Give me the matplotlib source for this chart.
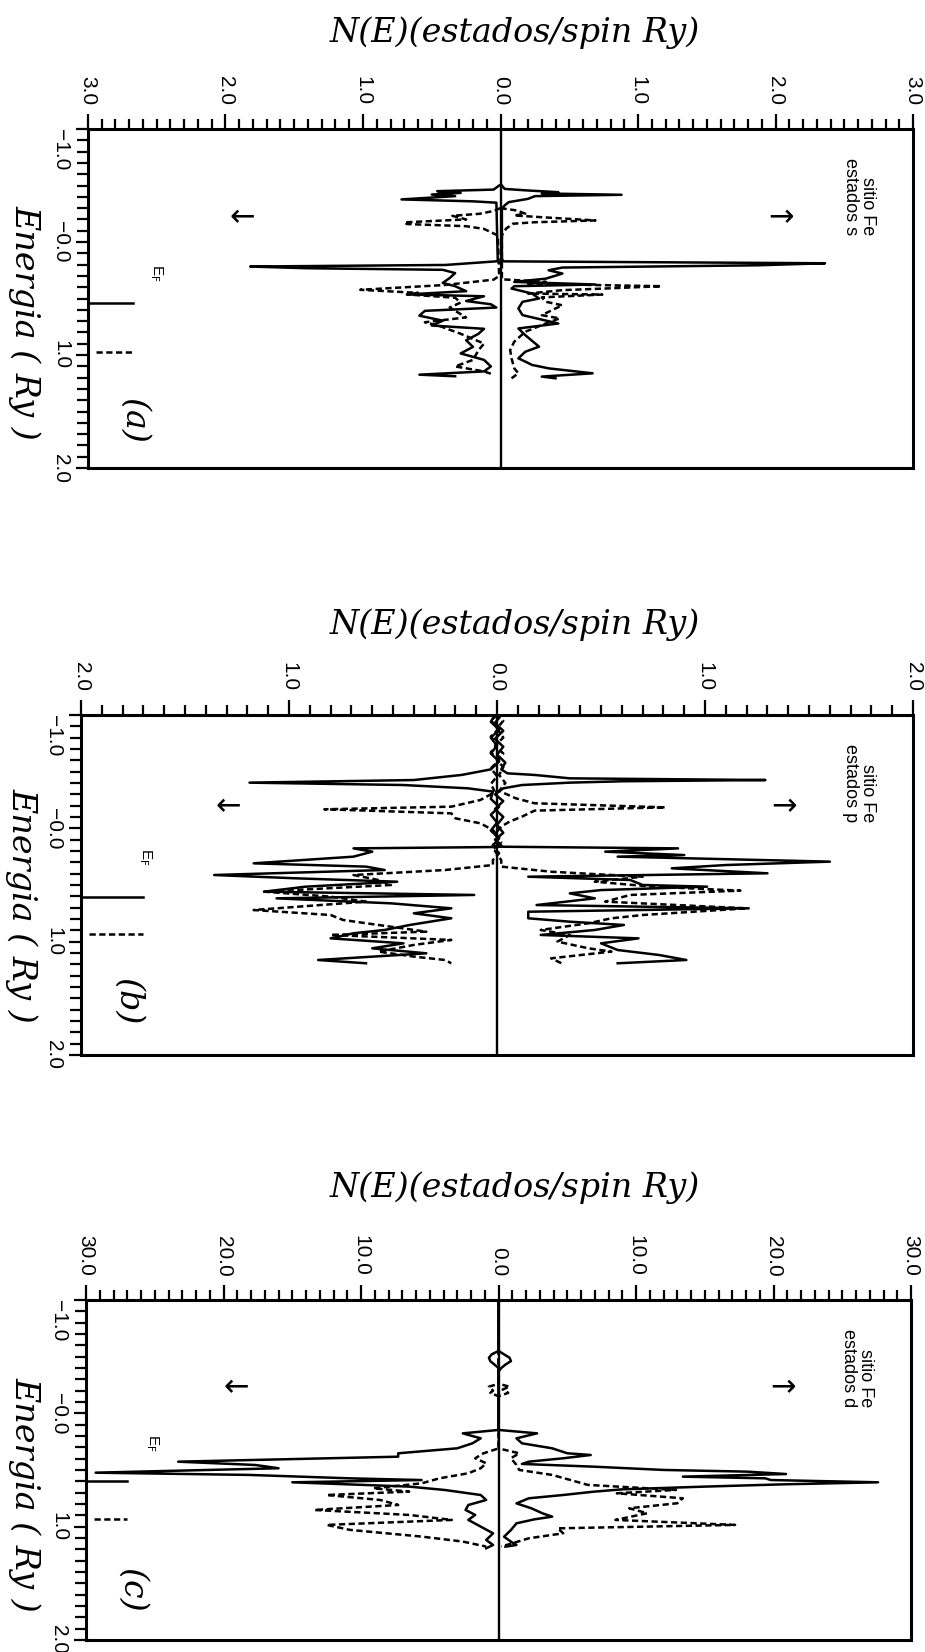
import matplotlib
matplotlib.use("Agg")
import matplotlib.pyplot as plt
from matplotlib.ticker import MultipleLocator, FixedLocator
from matplotlib.transforms import blended_transform_factory

plt.rcParams['font.family'] = ['Liberation Sans', 'DejaVu Sans']

# ---- datos: (E en Ry, N(E) en estados/spin Ry) ----
# panel (a): estados s
s_up_solid = [(-0.50, 0.01), (-0.47, 0.03), (-0.456, 0.20), (-0.441, 0.42), (-0.43, 0.30),
              (-0.418, 0.88), (-0.406, 0.25), (-0.382, 0.20), (-0.353, 0.06), (-0.324, 0.03), (-0.294, 0.01),
              (0.147, 0.01), (0.171, 0.02), (0.188, 2.36), (0.206, 1.87), (0.226, 0.45), (0.25, 0.35),
              (0.279, 0.45), (0.324, 0.33), (0.353, 0.10), (0.376, 0.69), (0.391, 0.10), (0.412, 0.08),
              (0.456, 0.23), (0.50, 0.28), (0.529, 0.16), (0.588, 0.13), (0.647, 0.16), (0.721, 0.42),
              (0.765, 0.13), (0.824, 0.18), (0.926, 0.28), (0.971, 0.18), (1.029, 0.13), (1.088, 0.23),
              (1.118, 0.35), (1.162, 0.67), (1.191, 0.30), (1.206, 0.40)]
s_up_dash = [(-0.30, 0.0), (-0.279, 0.12), (-0.25, 0.18), (-0.235, 0.10), (-0.221, 0.28), (-0.191, 0.69),
             (-0.175, 0.25), (-0.162, 0.09), (-0.118, 0.04), (-0.059, 0.01), (0.33, 0.01), (0.353, 0.33),
             (0.37, 0.20), (0.391, 1.17), (0.41, 0.79), (0.426, 0.45), (0.456, 0.20), (0.465, 0.74),
             (0.49, 0.30), (0.529, 0.33), (0.56, 0.45), (0.588, 0.40), (0.647, 0.30), (0.676, 0.43),
             (0.721, 0.33), (0.794, 0.18), (0.882, 0.10), (0.956, 0.07), (1.029, 0.08), (1.118, 0.10),
             (1.162, 0.13), (1.206, 0.08)]
s_dn_solid = [(-0.50, 0.01), (-0.464, 0.05), (-0.45, 0.46), (-0.435, 0.29), (-0.42, 0.50),
              (-0.406, 0.33), (-0.377, 0.72), (-0.36, 0.20), (-0.348, 0.03), (0.17, 0.02), (0.203, 0.40),
              (0.217, 1.82), (0.232, 1.41), (0.246, 0.42), (0.275, 0.33), (0.319, 0.37), (0.362, 0.42),
              (0.391, 0.33), (0.435, 0.25), (0.464, 0.68), (0.48, 0.12), (0.522, 0.25), (0.551, 0.07),
              (0.58, 0.03), (0.609, 0.55), (0.652, 0.59), (0.696, 0.42), (0.739, 0.50), (0.768, 0.12),
              (0.812, 0.16), (0.87, 0.25), (0.928, 0.20), (0.986, 0.29), (1.043, 0.12), (1.101, 0.07),
              (1.145, 0.12), (1.174, 0.59), (1.188, 0.33)]
s_dn_dash = [(-0.30, 0.0), (-0.275, 0.05), (-0.25, 0.15), (-0.232, 0.35), (-0.20, 0.25), (-0.174, 0.70),
             (-0.159, 0.68), (-0.14, 0.25), (-0.116, 0.12), (-0.058, 0.02), (0.30, 0.01), (0.333, 0.05),
             (0.38, 0.40), (0.423, 1.02), (0.45, 0.60), (0.464, 0.68), (0.493, 0.33), (0.536, 0.29),
             (0.58, 0.37), (0.667, 0.25), (0.71, 0.55), (0.74, 0.45), (0.812, 0.29), (0.899, 0.12),
             (0.957, 0.16), (1.043, 0.20), (1.101, 0.33), (1.145, 0.12), (1.174, 0.05)]

# panel (b): estados p
p_up_solid = [(-1.0, 0.02), (-0.93, -0.01), (-0.86, 0.03), (-0.79, -0.01), (-0.72, 0.03), (-0.65, 0.0),
              (-0.58, 0.04), (-0.52, 0.02), (-0.485, 0.05), (-0.471, 0.18), (-0.441, 0.35), (-0.426, 1.29),
              (-0.415, 0.60), (-0.403, 0.35), (-0.382, 0.12), (-0.353, 0.03), (-0.30, -0.01), (-0.24, 0.03),
              (-0.17, -0.01), (-0.10, 0.03), (-0.03, 0.0), (0.04, 0.03), (0.10, -0.01), (0.15, 0.02),
              (0.162, 0.0), (0.177, 0.87), (0.206, 0.52), (0.236, 0.90), (0.25, 0.58), (0.294, 1.60),
              (0.324, 1.10), (0.353, 0.84), (0.397, 1.30), (0.427, 0.15), (0.456, 0.64), (0.50, 0.70),
              (0.515, 1.01), (0.545, 0.50), (0.574, 0.35), (0.618, 0.47), (0.677, 0.19), (0.706, 1.21),
              (0.736, 0.15), (0.794, 0.15), (0.824, 0.35), (0.853, 0.61), (0.897, 0.47), (0.941, 0.21),
              (0.971, 0.68), (1.015, 0.50), (1.074, 0.58), (1.118, 0.78), (1.162, 0.91), (1.191, 0.58)]
p_up_dash = [(-1.0, -0.01), (-0.95, 0.03), (-0.88, 0.0), (-0.80, 0.03), (-0.73, -0.01), (-0.66, 0.03),
             (-0.60, 0.0), (-0.54, 0.03), (-0.47, 0.01), (-0.40, 0.04), (-0.33, 0.01), (-0.265, 0.09),
             (-0.221, 0.18), (-0.185, 0.81), (-0.156, 0.18), (-0.103, 0.12), (-0.059, 0.06), (-0.015, 0.02),
             (0.05, -0.01), (0.12, 0.02), (0.20, -0.01), (0.28, 0.02), (0.338, 0.02), (0.383, 0.26),
             (0.427, 0.70), (0.471, 0.47), (0.515, 0.75), (0.55, 1.17), (0.588, 0.64), (0.647, 0.52),
             (0.706, 1.20), (0.765, 0.70), (0.794, 0.55), (0.838, 0.44), (0.897, 0.21), (0.941, 0.35),
             (1.0, 0.29), (1.059, 0.44), (1.088, 0.55), (1.147, 0.26), (1.191, 0.31)]
p_dn_solid = [(-1.0, 0.01), (-0.94, 0.03), (-0.87, -0.01), (-0.80, 0.03), (-0.73, 0.0), (-0.66, 0.03),
              (-0.59, -0.01), (-0.52, 0.03), (-0.471, 0.17), (-0.426, 0.40), (-0.403, 1.19), (-0.382, 0.45),
              (-0.353, 0.14), (-0.324, 0.02), (-0.26, 0.03), (-0.19, -0.01), (-0.12, 0.03), (-0.05, 0.0),
              (0.02, 0.03), (0.09, -0.01), (0.15, 0.02), (0.165, 0.0), (0.177, 0.69), (0.206, 0.60),
              (0.25, 0.69), (0.309, 1.17), (0.338, 0.63), (0.368, 0.54), (0.412, 1.36), (0.441, 0.97),
              (0.471, 0.48), (0.515, 0.92), (0.559, 1.12), (0.588, 0.11), (0.618, 1.06), (0.662, 0.51),
              (0.706, 0.22), (0.75, 0.40), (0.794, 0.22), (0.853, 0.42), (0.897, 0.54), (0.926, 0.69),
              (0.971, 0.80), (1.015, 0.45), (1.059, 0.60), (1.103, 0.34), (1.162, 0.86), (1.191, 0.63)]
p_dn_dash = [(-1.0, 0.0), (-0.95, 0.03), (-0.88, -0.01), (-0.81, 0.03), (-0.74, 0.0), (-0.67, 0.03),
             (-0.60, -0.01), (-0.53, 0.03), (-0.46, 0.0), (-0.39, 0.03), (-0.32, 0.01), (-0.25, 0.08),
             (-0.191, 0.22), (-0.168, 0.83), (-0.132, 0.22), (-0.088, 0.20), (-0.044, 0.08), (0.015, 0.02),
             (0.08, -0.01), (0.15, 0.02), (0.22, -0.01), (0.28, 0.02), (0.324, 0.02), (0.368, 0.25),
             (0.412, 0.69), (0.456, 0.57), (0.50, 0.51), (0.559, 1.12), (0.603, 0.80), (0.647, 0.63),
             (0.721, 1.17), (0.765, 0.80), (0.809, 0.74), (0.853, 0.57), (0.912, 0.34), (0.941, 0.80),
             (0.985, 0.22), (1.029, 0.40), (1.088, 0.57), (1.132, 0.40), (1.162, 0.25), (1.191, 0.22)]

# panel (c): estados d
d_up_solid = [(-1.0, 0.0), (-0.55, 0.0), (-0.52, 0.4), (-0.49, 0.8), (-0.46, 0.9), (-0.43, 0.5),
              (-0.40, 0.2), (-0.37, 0.0), (0.147, 0.0), (0.177, 2.8), (0.221, 1.3), (0.265, 1.7),
              (0.309, 3.9), (0.353, 5.0), (0.368, 6.7), (0.397, 4.7), (0.427, 2.2), (0.447, 1.7),
              (0.471, 6.9), (0.50, 12.0), (0.515, 18.1), (0.536, 20.9), (0.559, 13.4), (0.574, 19.4),
              (0.589, 19.8), (0.609, 27.6), (0.627, 20.7), (0.647, 15.0), (0.671, 9.0), (0.692, 6.9),
              (0.721, 4.7), (0.75, 2.2), (0.795, 1.3), (0.839, 2.4), (0.883, 3.2), (0.912, 3.9),
              (0.936, 2.6), (0.971, 1.3), (1.03, 0.9), (1.089, 0.4), (1.133, 0.9), (1.162, 1.3), (1.177, 0.5)]
d_up_dash = [(-1.0, 0.0), (-0.26, 0.0), (-0.235, 0.8), (-0.21, 0.3), (-0.18, 0.7), (-0.15, 0.0),
             (0.31, 0.0), (0.353, 1.5), (0.397, 0.9), (0.456, 1.3), (0.50, 1.5), (0.544, 3.9),
             (0.588, 5.2), (0.632, 6.5), (0.676, 12.9), (0.706, 8.6), (0.75, 13.4), (0.794, 13.0),
             (0.838, 9.5), (0.882, 10.8), (0.941, 8.5), (0.985, 17.2), (1.015, 4.3), (1.059, 4.7),
             (1.103, 2.2), (1.147, 1.0), (1.176, 0.2)]
d_dn_solid = [(-1.0, 0.0), (-0.55, 0.0), (-0.52, 0.5), (-0.49, 0.7), (-0.46, 0.6), (-0.43, 0.3),
              (-0.40, 0.0), (0.147, 0.0), (0.177, 2.6), (0.221, 1.3), (0.265, 1.9), (0.309, 3.0),
              (0.353, 7.3), (0.383, 7.3), (0.427, 23.3), (0.456, 17.7), (0.485, 16.0), (0.524, 29.3),
              (0.544, 18.1), (0.574, 10.8), (0.589, 5.6), (0.609, 15.0), (0.647, 6.5), (0.677, 3.9),
              (0.721, 1.3), (0.765, 0.9), (0.809, 2.2), (0.853, 2.4), (0.897, 1.7), (0.941, 2.2),
              (1.0, 1.3), (1.059, 0.4), (1.118, 0.9), (1.162, 0.4), (1.191, 0.9)]
d_dn_dash = [(-1.0, 0.0), (-0.26, 0.0), (-0.235, 0.7), (-0.20, 0.4), (-0.18, 0.6), (-0.15, 0.0),
             (0.31, 0.0), (0.353, 1.1), (0.397, 1.7), (0.441, 0.9), (0.485, 1.3), (0.529, 2.2),
             (0.574, 4.3), (0.618, 5.6), (0.662, 9.1), (0.691, 6.5), (0.721, 12.5), (0.765, 8.6),
             (0.809, 7.3), (0.853, 13.4), (0.897, 6.5), (0.941, 3.4), (0.985, 12.5), (1.029, 10.8),
             (1.088, 5.6), (1.132, 2.6), (1.176, 0.9)]

# niveles de Fermi (solido / trazos)
ef_solid = [0.54, 0.61, 0.60]
ef_dash = [0.97, 0.93, 0.93]

orbitales = ["s", "p", "d"]
letras = ["(a)", "(b)", "(c)"]
n_max = [3.0, 2.0, 30.0]
n_major = [1.0, 1.0, 10.0]
n_minor = [0.1, 0.1, 1.0]
n_ticklabels = [["3.0", "2.0", "1.0", "0.0", "1.0", "2.0", "3.0"],
                ["2.0", "1.0", "0.0", "1.0", "2.0"],
                ["30.0", "20.0", "10.0", "0.0", "10.0", "20.0", "30.0"]]
e_ticks = [-1.0, 0.0, 1.0, 2.0]
e_ticklabels = ["\u22121.0", "\u22120.0", "1.0", "2.0"]

curvas = [(s_up_solid, s_up_dash, s_dn_solid, s_dn_dash),
          (p_up_solid, p_up_dash, p_dn_solid, p_dn_dash),
          (d_up_solid, d_up_dash, d_dn_solid, d_dn_dash)]

# posiciones en la figura (rect de ejes, titulo, etiqueta de energia)
rects = [(0.0951, 0.7167, 0.892, 0.2052), (0.0876, 0.3614, 0.8995, 0.2058), (0.0930, 0.0073, 0.892, 0.2058)]
title_y = [0.980, 0.622, 0.281]
elabel_pos = [(0.027, 0.805), (0.024, 0.452), (0.027, 0.0956)]
arrow_n = [(2.04, -1.88), (1.38, -1.29), (20.7, -19.1)]
arrow_e = [-0.22, -0.19, -0.23]
ef_text = [(-2.5, 0.27), (-1.69, 0.25), (-25.2, 0.26)]
ef_len = [0.055, 0.075, 0.05]
letra_e = [1.58, 1.53, 1.56]

dash_style = (0, (2.5, 1.4))
serif_it = dict(family="DejaVu Serif", style="italic")

fig = plt.figure(figsize=(9.25, 16.52), dpi=100)

for i in range(3):
    ax = fig.add_axes(rects[i])
    up_s, up_d, dn_s, dn_d = curvas[i]
    for data, sign, ls in [(up_s, 1, "-"), (up_d, 1, dash_style), (dn_s, -1, "-"), (dn_d, -1, dash_style)]:
        E = [p[0] for p in data]
        N = [sign * p[1] for p in data]
        ax.plot(N, E, color="black", lw=1.8, linestyle=ls)

    ax.axvline(0, color="black", lw=1.7)
    ax.axhline(ef_solid[i], xmin=0, xmax=ef_len[i], color="black", lw=1.8)
    ax.axhline(ef_dash[i], xmin=0.01, xmax=ef_len[i], color="black", lw=1.8, linestyle=dash_style)

    nm = n_max[i]
    ax.set_xlim(-nm, nm)
    ax.set_ylim(2.0, -1.0)

    ax.xaxis.set_ticks_position("top")
    ax.yaxis.set_ticks_position("left")
    ax.xaxis.set_minor_locator(MultipleLocator(n_minor[i]))
    ax.set_xticks([k * n_major[i] for k in range(-int(nm / n_major[i]), int(nm / n_major[i]) + 1)])
    ax.set_xticklabels(n_ticklabels[i], fontsize=15)
    ax.yaxis.set_major_locator(FixedLocator(e_ticks))
    ax.yaxis.set_minor_locator(MultipleLocator(0.1))
    ax.set_yticklabels(e_ticklabels, fontsize=15)

    ax.tick_params(axis="x", which="major", direction="out", length=11, width=1.6, pad=6,
                   labelrotation=-90)
    ax.tick_params(axis="x", which="minor", direction="out", length=7, width=1.6)
    ax.tick_params(axis="y", which="major", direction="out", length=9, width=1.6, pad=4,
                   labelrotation=-90)
    ax.tick_params(axis="y", which="minor", direction="out", length=8, width=1.6)
    for lab in ax.get_yticklabels():
        lab.set_va("center")
    ax.get_yticklabels()[0].set_va("top")
    for sp in ax.spines.values():
        sp.set_linewidth(2.2)

    ax.text(0.955, 0.915, "sitio Fe\nestados " + orbitales[i], transform=ax.transAxes,
            rotation=-90, ha="right", va="top", fontsize=13, linespacing=1.0)
    ax.text(arrow_n[i][0], arrow_e[i], "\u2192", fontsize=22, ha="center", va="center",
            family="DejaVu Sans")
    ax.text(arrow_n[i][1], arrow_e[i], "\u2190", fontsize=22, ha="center", va="center",
            family="DejaVu Sans")
    ax.text(ef_text[i][0], ef_text[i][1], r"E$_\mathrm{F}$", rotation=-90, fontsize=11,
            ha="center", va="center")
    tr = blended_transform_factory(ax.transAxes, ax.transData)
    ax.text(0.056, letra_e[i], letras[i], transform=tr, rotation=-90, ha="center", va="center",
            fontsize=24, **serif_it)

    fig.text(0.557, title_y[i], "N(E)(estados/spin Ry)", ha="center", va="center",
             fontsize=24, **serif_it)
    fig.text(elabel_pos[i][0], elabel_pos[i][1], "Energia ( Ry )", rotation=-90,
             ha="center", va="center", fontsize=24, **serif_it)

fig.savefig("out.png", dpi=100)
